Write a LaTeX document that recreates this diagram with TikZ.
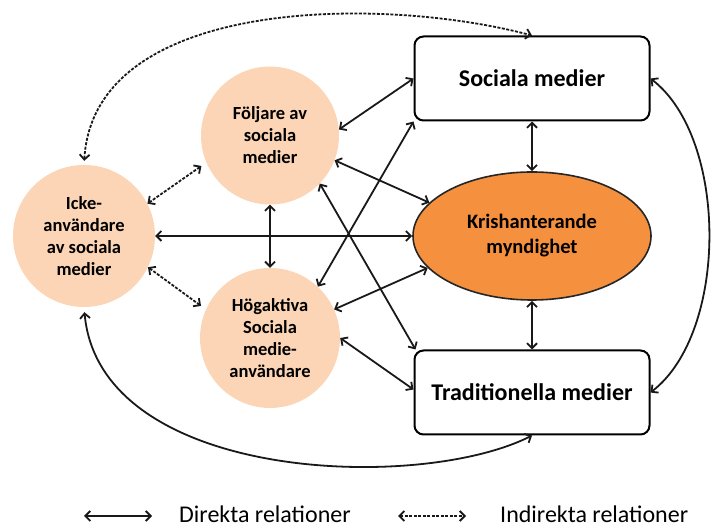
\documentclass[tikz,border=0pt]{standalone}
\usepackage{fontspec}
\setmainfont{Carlito}
\usetikzlibrary{shapes.geometric,arrows.meta}
\definecolor{peach}{HTML}{FBD5B5}
\definecolor{krisorange}{HTML}{F5913E}
\begin{document}
\begin{tikzpicture}[x=1pt,y=1pt,
    >={Straight Barb[length=5pt,width=10pt]},
    medie/.style={draw=black,line width=2pt,rounded corners=9pt,
      minimum width=235pt,minimum height=84pt,
      font=\bfseries\fontsize{24}{28}\selectfont},
    myndighet/.style={ellipse,draw=black!85,line width=1.6pt,fill=krisorange,
      minimum width=238pt,minimum height=128pt,align=center,inner sep=0pt,
      font=\bfseries\fontsize{20.5}{25}\selectfont},
    grupp/.style={circle,fill=peach,align=center,inner sep=0pt,
      font=\bfseries\fontsize{18.5}{22}\selectfont},
    relation/.style={<->,line width=1.8pt,draw=black!90},
    indirekt/.style={dash pattern=on 3pt off 1.5pt},
    legendtext/.style={anchor=west,inner sep=0pt,font=\fontsize{24}{28}\selectfont}]
      \useasboundingbox (0,0) rectangle (712,527);
      \draw
        (532,448.5) node[medie] (soc){Sociala medier}
        (532,291) node[myndighet] (kris){Krishanterande\\myndighet}
        (532,134.5) node[medie] (trad){Traditionella medier}
        (270,391.5) node[grupp,minimum size=138pt] (fol){Följare av\\sociala\\medier}
        (270,189) node[grupp,minimum size=140pt] (hog){Högaktiva\\Sociala\\medie-\\användare}
        (84,291) node[grupp,minimum size=142pt] (icke){Icke-\\användare\\av sociala\\medier};
      \begin{scope}[relation]
        \draw (fol.5) to (soc.west);
        \draw (hog.47) to (soc.south west);
        \draw (fol.-21) to (kris.162);
        \draw (fol.-44) to ([xshift=2pt]trad.north west);
        \draw (hog.24) to (kris.197);
        \draw (hog.0) to ([yshift=3pt]trad.west);
        \draw (icke) to (kris);
        \draw (fol) to (hog);
        \draw (soc) to (kris);
        \draw (kris) to (trad);
        \draw (soc.east) .. controls +(78,-60) and +(78,60) .. (trad.east);
        \draw[shorten <=5pt] (icke.south) .. controls +(16,-175) and +(-112.5,-57) .. (trad.south);
      \end{scope}
      \begin{scope}[relation,indirekt]
        \draw[shorten >=6pt] (icke.27) to (fol.203);
        \draw[shorten >=6pt] (icke.-26) to (hog.156);
        \draw[shorten <=4pt] (icke.north) .. controls +(10,168) and +(-150,40) .. (soc.north);
      \end{scope}
      \coordinate (direkta a) at (84,11);
      \coordinate (direkta b) at (152,11);
      \coordinate (indirekta a) at (398,11);
      \coordinate (indirekta b) at (466,11);
      \draw[relation] (direkta a) to (direkta b);
      \draw[relation,indirekt] (indirekta a) to (indirekta b);
      \draw
        (179,13) node[legendtext] (direkta){Direkta relationer}
        (500,13) node[legendtext] (indirekta){Indirekta relationer};
    \end{tikzpicture}
\end{document}
